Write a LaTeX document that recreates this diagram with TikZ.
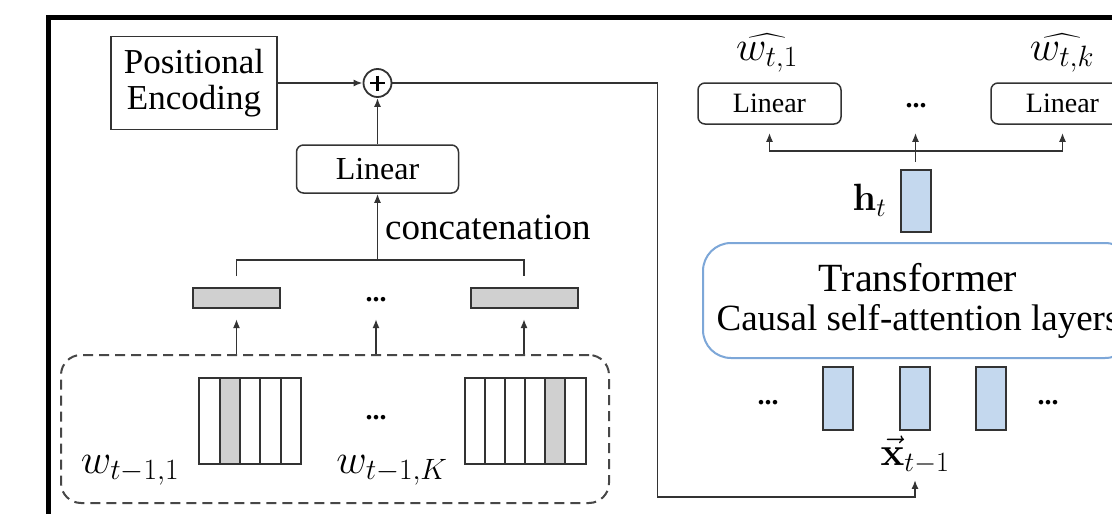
\RequirePackage{fix-cm}
\documentclass[tikz,border=0pt]{standalone}
\usepackage[no-math]{fontspec}
\setmainfont{Liberation Serif}
\usepackage{amsmath}
\usetikzlibrary{positioning,calc,arrows.meta}
\definecolor{FigBlue}{HTML}{C4D8EE}
\definecolor{FigBlueLine}{HTML}{7DA7D8}
\definecolor{FigGray}{HTML}{D0D0D0}
\definecolor{FigLine}{HTML}{333333}

\begin{document}
\begin{tikzpicture}[x=1pt, y=-1pt,
    box/.style={draw=FigLine, line width=1.5pt, rounded corners=7pt, align=center, inner sep=0pt},
    plain/.style={box, rounded corners=0pt},
    vec/.style={draw=FigLine, line width=2pt, fill=FigBlue, minimum width=30pt, minimum height=63pt, inner sep=0pt},
    bar/.style={draw=FigLine, line width=2pt, fill=FigGray, minimum height=20pt, inner sep=0pt},
    cell/.style={draw=FigLine, line width=2pt, minimum width=20.2pt, minimum height=86pt, inner sep=0pt},
    lbl/.style={inner sep=0pt},
    dots/.style={inner sep=0pt, font=\fontsize{28}{30}\selectfont\bfseries},
    line/.style={draw=FigLine, line width=1.8pt},
    arrow/.style={line, -{Latex[length=9pt,width=7pt]}}
  ]
    \useasboundingbox (0,0) rectangle (1112,514);
    \clip (0,0) rectangle (1112,514);
    \fill[white] (0,0) rectangle (1112,514);
    \draw[line width=5pt] (48,520) -- (48,17.5) -- (1120,17.5);

    % left branch
    \node[plain, minimum width=166pt, minimum height=93pt, font=\fontsize{35}{36}\selectfont] (pe) at (194,83) {Positional\\Encoding};
    \node[circle, draw=FigLine, line width=1.8pt, minimum size=28pt, inner sep=0pt] (plus) at (377.5,83) {};
    \draw[line width=2.8pt] ($(plus)+(-7.5,0)$) -- ($(plus)+(7.5,0)$) ($(plus)+(0,-7.5)$) -- ($(plus)+(0,7.5)$);
    \node[box, minimum width=162pt, minimum height=48pt, font=\fontsize{32}{34}\selectfont] (lin) at (377.5,169) {Linear};
    \coordinate (cat) at (377.5,260);
    \node[lbl, anchor=west, font=\fontsize{37}{40}\selectfont] (catlab) at (385,227) {concatenation};

    \node[bar, minimum width=87pt] (e1) at (236.5,298) {};
    \node[dots] (d1) at (376,300) {...};
    \node[bar, minimum width=107pt] (eK) at (524,298) {};

    \node[draw=FigLine!90, line width=2pt, dash pattern=on 10pt off 6pt, rounded corners=20pt,
      minimum width=548pt, minimum height=148pt] (inp) at (335,429) {};
    \foreach \i/\c in {0/white,1/FigGray,2/white,3/white,4/white}
      \node[cell, fill=\c] (ga\i) at (209.5+20.3*\i,421) {};
    \foreach \i/\c in {0/white,1/white,2/white,3/white,4/FigGray,5/white}
      \node[cell, fill=\c] (gb\i) at (475+20.1*\i,421) {};
    \node[lbl, font=\fontsize{42}{44}\selectfont] (w1) at (130,470) {$w_{t-1,1}$};
    \node[dots] (d2) at (376,418) {...};
    \node[lbl, font=\fontsize{42}{44}\selectfont] (wK) at (392,470) {$w_{t-1,K}$};

    % right branch
    \node[lbl, font=\fontsize{42}{44}\selectfont] (oA) at (767,53) {$\widehat{w_{t,1}}$};
    \node[lbl, font=\fontsize{42}{44}\selectfont] (oB) at (1062,53) {$\widehat{w_{t,k}}$};
    \node[box, minimum width=143pt, minimum height=41pt, font=\fontsize{28}{30}\selectfont] (linA) at (769.5,103.5) {Linear};
    \node[dots] (d3) at (916,106) {...};
    \node[box, minimum width=143pt, minimum height=41pt, font=\fontsize{28}{30}\selectfont] (linB) at (1062.5,103.5) {Linear};
    \coordinate (split) at (916,151);

    \node[vec, minimum height=62pt] (hbox) at (915.5,200.5) {};
    \node[lbl, left=13pt of hbox, font=\fontsize{38}{40}\selectfont] (hlab) {$\mathbf{h}_t$};

    \node[box, draw=FigBlueLine, line width=2pt, rounded corners=28pt, minimum width=430pt, minimum height=115pt,
      font=\fontsize{37}{39}\selectfont] (tr) at (918,300.5) {{\fontsize{40}{42}\selectfont Transformer}\\Causal self-attention layers};

    \node[dots] (d4) at (768,403) {...};
    \node[vec] (xa) at (838,398.5) {};
    \node[vec] (xb) at (915,398.5) {};
    \node[vec] (xc) at (991,398.5) {};
    \node[dots] (d5) at (1048,403) {...};
    \node[lbl, font=\fontsize{40}{42}\selectfont] (xlab) at (915,455) {$\vec{\mathbf{x}}_{t-1}$};
    \coordinate (turn) at (657.5,497);

    \draw[arrow] (pe) -- (plus);
    \draw[arrow] (lin) -- (plus);
    \draw[line] ($(e1.north)+(0,-11)$) |- (cat) -| ($(eK.north)+(0,-11)$);
    \draw[arrow] (cat) -- (lin);
    \draw[arrow] (e1 |- inp.north) -- ($(e1.south)+(0,10)$);
    \draw[arrow] (d1 |- inp.north) -- ($(d1 |- e1.south)+(0,10)$);
    \draw[arrow] (eK |- inp.north) -- ($(eK.south)+(0,10)$);
    \draw[arrow, shorten >=6pt] (plus) -| (turn) -| (xlab.south);
    \draw[arrow] ($(hbox.north)+(0,-7)$) -- ($(hbox.north |- linA.south)+(0,8)$);
    \draw[arrow] (split) -| ($(linA.south)+(0,8)$);
    \draw[arrow] (split) -| ($(linB.south)+(0,8)$);
\end{tikzpicture}
\end{document}
